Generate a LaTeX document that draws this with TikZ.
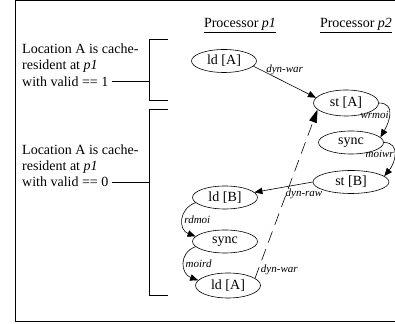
\documentclass[tikz,border=0pt]{standalone}
\usepackage{fontspec}
\setmainfont{Liberation Serif}
\usetikzlibrary{positioning, shapes.geometric, arrows.meta}

\begin{document}
\begin{tikzpicture}[x=1pt, y=1pt, node distance=44pt,
    font=\fontsize{14}{16}\selectfont,
    op/.style={draw, ellipse, line width=0.6pt, minimum width=65pt, minimum height=23pt, inner sep=0pt},
    lbl/.style={font=\fontsize{11}{12}\selectfont\itshape, inner sep=1.5pt},
    note/.style={inner xsep=3pt, inner ysep=0pt, align=left},
    arr/.style={-{Triangle[length=8pt, width=6.5pt]}, line width=0.6pt},
    dep/.style={-{Triangle[length=13pt, width=8pt]}, line width=0.6pt, dash pattern=on 12pt off 7pt}]
  \useasboundingbox (0,0) rectangle (395,323);
  \draw[line width=1pt] (395,322) -- (15,322) -- (15,1.5) -- (395,1.5);

  % column headings
  \node[anchor=base] (hp1) at (240,295) {\underline{Processor \textit{p1}}};
  \node[anchor=base] (hp2) at (356,295) {\underline{Processor \textit{p2}}};

  % processor p1
  \node[op] (ldA1) at (224,262) {ld [A]};
  \node[op] (ldB) at (225,125.5) {ld [B]};
  \node[op] (syncL) [below of=ldB] {sync};
  \node[op, minimum height=25pt] (ldA2) [below of=syncL, xshift=3pt] {ld [A]};

  % processor p2
  \node[op, minimum height=26pt] (stA) at (346,220) {st [A]};
  \node[op] (syncR) [node distance=39.5pt, below of=stA, xshift=5pt] {sync};
  \node[op, minimum width=76pt] (stB) [node distance=39.5pt, below of=syncR, xshift=0pt] {st [B]};

  % cache-residence notes
  \node[note, anchor=west] (val1) at (19,241.5) {with valid == 1};
  \node[note, above right=3.4pt and 0pt of val1.north west] (loc1) {Location A is cache-\\resident at \textit{p1}};
  \node[note, anchor=west] (val2) at (19,141) {with valid == 0};
  \node[note, above right=3.4pt and 0pt of val2.north west] (loc2) {Location A is cache-\\resident at \textit{p1}};

  \draw[line width=0.8pt] (168,284) -- (149,284) coordinate (brk1) -- (149,223) -- (168,223);
  \draw[line width=0.8pt] (val1.east) -- (val1.east -| brk1);
  \draw[line width=0.8pt] (168,213.5) -- (149,213.5) coordinate (brk2) -- (149,27.5) -- (168,27.5);
  \draw[line width=0.8pt] (val2.east) -- (val2.east -| brk2);

  % dependences
  \draw[arr] (ldA1.-10) -- node[lbl, above=5pt] {dyn-war} (stA.170);
  \draw[arr] (stA.east) to[out=0, in=60, looseness=1.3] node[lbl, left=-1pt] {wrmoi} (syncR.10);
  \draw[arr] (syncR.east) to[out=0, in=50, looseness=1.3] node[lbl, left=-1pt] {moiwr} (stB.10);
  \draw[arr] (stB.west) -- node[lbl, below=4pt, pos=0.15] {dyn-raw} (ldB.10);
  \draw[arr] (ldB.190) to[out=200, in=160, looseness=1.4] node[lbl, right] {rdmoi} (syncL.170);
  \draw[arr] (syncL.190) to[out=200, in=160, looseness=1.4] node[lbl, right] {moird} (ldA2.170);
  \draw[dep] (ldA2.15) -- node[lbl, right=1pt, pos=0.05] {dyn-war} (stA.193);
\end{tikzpicture}
\end{document}
